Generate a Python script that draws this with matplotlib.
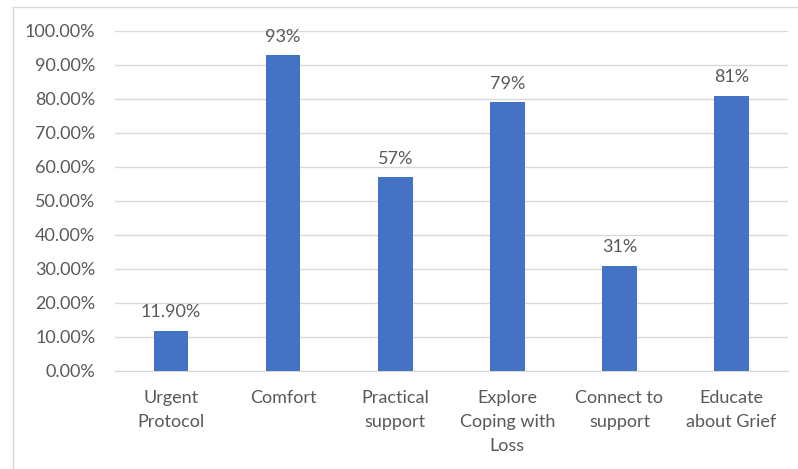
import matplotlib.pyplot as plt
from matplotlib.lines import Line2D

categories = ["Urgent\nProtocol", "Comfort", "Practical\nsupport",
              "Explore\nCoping with\nLoss", "Connect to\nsupport", "Educate\nabout Grief"]
values = [0.119, 0.93, 0.57, 0.79, 0.31, 0.81]
labels = ["11.90%", "93%", "57%", "79%", "31%", "81%"]
yticks = [i / 10 for i in range(11)]

plt.rcParams['font.family'] = ['Lato', 'DejaVu Sans']
grey = '#595959'

fig = plt.figure(figsize=(7.98, 4.69), dpi=100)
ax = fig.add_axes([0.144, 0.209, 0.843, 0.725])

x = range(len(categories))
bars = ax.bar(x, values, width=0.31, color='#4472C4', zorder=3)
for b, lab in zip(bars, labels):
    ax.text(b.get_x() + b.get_width() / 2, b.get_height() + 0.03, lab,
            ha='center', va='bottom', fontsize=13, color=grey)

ax.set_xlim(-0.5, len(categories) - 0.5)
ax.set_ylim(0, 1.0)
ax.set_yticks(yticks)
ax.set_yticklabels([f"{t * 100:.2f}%" for t in yticks])
ax.set_xticks(list(x))
ax.set_xticklabels(categories, linespacing=1.6)
ax.tick_params(axis='both', length=0, labelsize=13, labelcolor=grey)
ax.tick_params(axis='x', pad=14)
ax.tick_params(axis='y', pad=14)
ax.grid(axis='y', color='#d9d9d9', linewidth=1, zorder=0)
for s in ['top', 'right', 'left']:
    ax.spines[s].set_visible(False)
ax.spines['bottom'].set_color('#d9d9d9')
ax.set_axisbelow(True)

# outer chart border
fig.add_artist(Line2D([0.016, 0.016], [0, 0.985], color='#d9d9d9', linewidth=1))
fig.add_artist(Line2D([0.016, 1.0], [0.985, 0.985], color='#d9d9d9', linewidth=1))

fig.savefig('out.png', dpi=100)
